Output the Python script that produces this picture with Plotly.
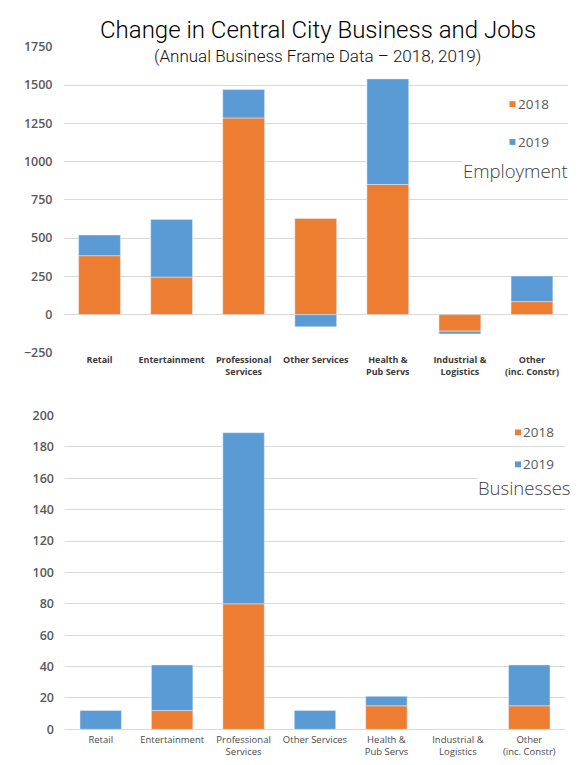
import plotly.graph_objects as go

# Sector categories (shared by both panels)
categories = ["Retail", "Entertainment", "Professional Services", "Other Services",
              "Health & Pub Servs", "Industrial & Logistics", "Other (inc. Constr)"]
category_labels = ["Retail", "Entertainment", "Professional<br>Services", "Other Services",
                   "Health &<br>Pub Servs", "Industrial &<br>Logistics", "Other<br>(inc. Constr)"]

# Employment change by year
jobs_2018 = [385, 245, 1285, 628, 850, -108, 85]
jobs_2019 = [135, 377, 185, -80, 690, -18, 167]

# Business count change by year
biz_2018 = [0, 12, 80, 0, 15, 0, 15]
biz_2019 = [12, 29, 109, 12, 6, 0, 26]

jobs_ticks = [-250, 0, 250, 500, 750, 1000, 1250, 1500, 1750]
biz_ticks = [0, 20, 40, 60, 80, 100, 120, 140, 160, 180, 200]

years = ["2018", "2019"]

ORANGE = "#ED7D31"
BLUE = "#5B9BD5"
GRID = "#D9D9D9"
TICK_GREY = "#595959"

W, H = 585, 765


def px_x(p):
    return p / W


def px_y(p):
    return 1 - p / H


fig = go.Figure()

fig.add_trace(go.Bar(x=categories, y=jobs_2018, name=years[0], marker_color=ORANGE,
                     xaxis="x", yaxis="y", showlegend=False))
fig.add_trace(go.Bar(x=categories, y=jobs_2019, name=years[1], marker_color=BLUE,
                     xaxis="x", yaxis="y", showlegend=False))
fig.add_trace(go.Bar(x=categories, y=biz_2018, name=years[0], marker_color=ORANGE,
                     xaxis="x2", yaxis="y2", showlegend=False))
fig.add_trace(go.Bar(x=categories, y=biz_2019, name=years[1], marker_color=BLUE,
                     xaxis="x2", yaxis="y2", showlegend=False))

tick_font = dict(family="Open Sans, sans-serif", size=12.5, color=TICK_GREY, weight=600)

fig.update_layout(
    width=W, height=H, autosize=False,
    margin=dict(l=0, r=0, t=0, b=0),
    paper_bgcolor="white", plot_bgcolor="white",
    barmode="relative", bargap=0.42,
    showlegend=False,
    xaxis=dict(domain=[px_x(63.5), px_x(568)], anchor="y",
               tickmode="array", tickvals=categories, ticktext=category_labels,
               tickfont=dict(family="Open Sans, sans-serif", size=9, color="#3a3a3a", weight=700),
               showgrid=False, showline=False, zeroline=False, ticks=""),
    yaxis=dict(domain=[px_y(351.7), px_y(38.6)], anchor="x",
               range=[-250, 1750], tickmode="array", tickvals=jobs_ticks,
               tickfont=tick_font, ticklabelstandoff=10,
               showgrid=True, gridcolor=GRID, gridwidth=1,
               zeroline=True, zerolinecolor=GRID, zerolinewidth=1, showline=False),
    xaxis2=dict(domain=[px_x(65), px_x(565)], anchor="y2",
                tickmode="array", tickvals=categories, ticktext=category_labels,
                tickfont=dict(family="Open Sans, sans-serif", size=9.5, color="#4a4a4a"),
                ticklabelstandoff=3,
                showgrid=False, showline=False, zeroline=False, ticks=""),
    yaxis2=dict(domain=[px_y(736.7), px_y(415.7)], anchor="x2",
                range=[0, 200], tickmode="array", tickvals=biz_ticks,
                tickfont=tick_font, ticklabelstandoff=10,
                showgrid=True, gridcolor=GRID, gridwidth=1,
                zeroline=True, zerolinecolor=GRID, zerolinewidth=1, showline=False),
)

annotations = [
    dict(text="Change in Central City Business and Jobs", x=px_x(318), y=px_y(21.5),
         font=dict(family="Roboto, sans-serif", size=24, color="#000000", weight=300)),
    dict(text="(Annual Business Frame Data \u2013 2018, 2019)", x=px_x(317), y=px_y(48),
         font=dict(family="Roboto, sans-serif", size=17, color="#111111", weight=300)),
    dict(text="Employment", x=px_x(569), y=px_y(165), xanchor="right",
         font=dict(family="Open Sans, sans-serif", size=18.5, color="#404040", weight=300),
         bgcolor="white"),
    dict(text="Businesses", x=px_x(571), y=px_y(489), xanchor="right",
         font=dict(family="Open Sans, sans-serif", size=18.5, color="#404040", weight=300),
         bgcolor="white"),
]

# legend entries for each panel: swatch square + year label
legend_spots = [(512.5, 97.3, years[0], ORANGE), (512.5, 136, years[1], BLUE),
                (518, 433, years[0], ORANGE), (518, 465.7, years[1], BLUE)]
shapes = []
for sx, sy, label, col in legend_spots:
    shapes.append(dict(type="rect", xref="paper", yref="paper",
                       x0=px_x(sx - 3), x1=px_x(sx + 3), y0=px_y(sy + 3), y1=px_y(sy - 3),
                       fillcolor=col, line=dict(width=0)))
    annotations.append(dict(
        text=label, x=px_x(sx + 4), y=px_y(sy), xanchor="left",
        font=dict(family="Open Sans, sans-serif", size=13.5, color=TICK_GREY)))

for a in annotations:
    a.update(xref="paper", yref="paper", showarrow=False, borderpad=0)
    a.setdefault("xanchor", "center")
    a.setdefault("yanchor", "middle")

fig.update_layout(annotations=annotations, shapes=shapes)

fig.write_html("out.html")
